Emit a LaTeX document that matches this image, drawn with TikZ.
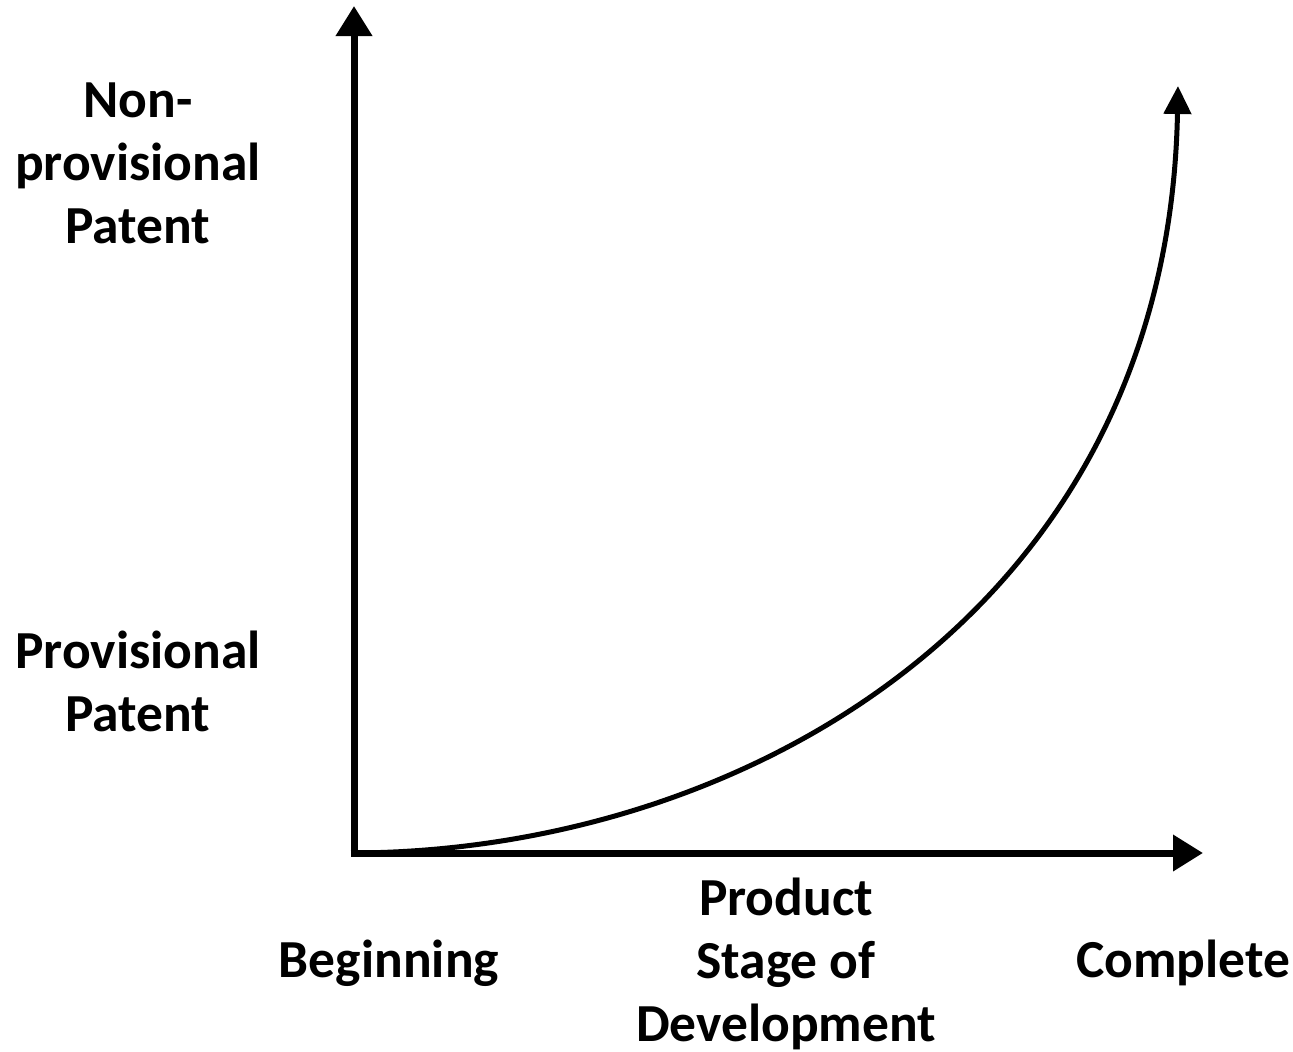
\documentclass[tikz,border=0pt]{standalone}
\usepackage{fontspec}
\setmainfont{Carlito}
\usetikzlibrary{arrows.meta}
\begin{document}
\begin{tikzpicture}[x=1pt,y=-1pt,
  axis/.style={line width=7pt,-{Triangle[length=30pt,width=35pt]}},
  curve/.style={line width=5pt,line cap=round,-{Triangle[length=28pt,width=27pt]}},
  lbl/.style={font=\fontsize{53.5}{63}\selectfont\bfseries,align=center,inner sep=0pt}]
\useasboundingbox (0,0) rectangle (1293,1052);
\coordinate (o) at (354,853);
\coordinate (ytip) at (354,6);
\coordinate (xtip) at (1203,853);
\coordinate (ctip) at (1178,86);
\draw[axis] ([yshift=3.5pt]o) -- (ytip);
\draw[axis] ([xshift=-3.5pt]o) -- (xtip);
\draw[curve] (o) .. controls (745,851) and (1168,610) .. (ctip);
\node[lbl] (np) at (138,163) {Non-\\provisional\\Patent};
\node[lbl] (pp) at (138,681) {Provisional\\Patent};
\node[lbl] (beg) at (389,963) {Beginning};
\node[lbl] (psd) at (786,964) {Product\\Stage of\\Development};
\node[lbl] (com) at (1183,963) {Complete};
\end{tikzpicture}
\end{document}
